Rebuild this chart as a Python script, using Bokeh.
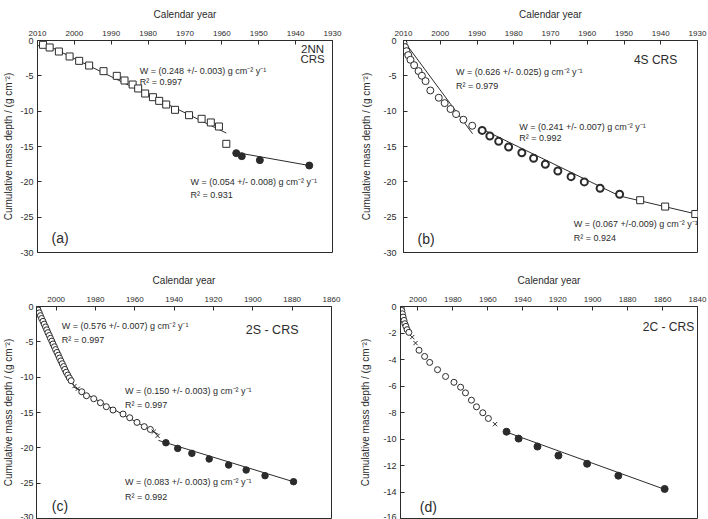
from bokeh.plotting import figure
from bokeh.models import Range1d, FixedTicker, Label
from bokeh.layouts import column, row
from bokeh.embed import file_html
from bokeh.resources import INLINE

FONT = "Liberation Sans"
INK = "#2b2b2b"

# ---------------- data: panel (a) 2NN CRS ----------------
a_open_year = [2010.0, 2008.5, 2006.7, 2004.2, 2001.3, 1998.7, 1996.0, 1992.1, 1988.5, 1986.4,
               1984.2, 1982.7, 1980.8, 1978.7, 1977.0, 1975.1, 1972.7, 1968.9, 1965.5, 1963.0,
               1960.8, 1958.8]
a_open_depth = [-0.24, -0.61, -0.99, -1.56, -2.26, -2.88, -3.54, -4.34, -5.00, -5.66,
                -6.23, -6.79, -7.50, -8.02, -8.54, -9.06, -9.81, -10.57, -11.08, -11.60,
                -12.17, -14.62]
a_fill_year = [1956.1, 1954.6, 1949.7, 1936.3]
a_fill_depth = [-15.94, -16.37, -16.93, -17.69]
a_fit1_year, a_fit1_depth = [2010.0, 1958.8], [0.0, -13.1]
a_fit2_year, a_fit2_depth = [1956.1, 1936.3], [-15.85, -17.69]

# ---------------- data: panel (b) 4S CRS ----------------
b_open_year = [2010.0, 2009.6, 2009.2, 2008.7, 2008.1, 2007.1, 2005.9, 2005.0, 2004.0, 2002.7,
               2000.4, 1998.8, 1997.2, 1995.7, 1993.7, 1991.3]
b_open_depth = [-0.33, -0.94, -1.51, -2.07, -2.73, -3.49, -4.33, -4.99, -5.75, -7.07,
                -8.10, -8.86, -9.70, -10.41, -11.21, -12.06]
b_bold_year = [1988.6, 1986.5, 1984.1, 1981.4, 1977.8, 1974.6, 1971.4, 1968.0, 1964.4, 1960.8,
               1956.5, 1951.2]
b_bold_depth = [-12.72, -13.52, -14.27, -15.07, -15.88, -16.67, -17.51, -18.46, -19.27, -20.01,
                -20.90, -21.75]
b_sq_year = [1945.6, 1938.8, 1930.6]
b_sq_depth = [-22.6, -23.5, -24.55]
b_fit1_year, b_fit1_depth = [2010.0, 1991.2], [0.0, -13.2]
b_fit2_year, b_fit2_depth = [1989.0, 1951.2], [-12.45, -22.0]
b_fit3_year, b_fit3_depth = [1951.2, 1930.0], [-22.0, -24.6]

# ---------------- data: panel (c) 2S - CRS ----------------
c_open_year = [2009.6, 2009.2, 2008.6, 2008.0, 2007.4, 2006.7, 2006.1, 2005.4, 2004.8, 2004.2,
               2003.5, 2002.9, 2002.2, 2001.6, 2000.9, 2000.3, 1999.6, 1998.9, 1998.3, 1997.6,
               1996.9, 1996.2, 1995.6, 1994.9, 1994.1, 1993.3, 1992.4,
               1987.0, 1984.6, 1980.9, 1977.5, 1974.5, 1971.1, 1966.0, 1962.6, 1958.9, 1955.2,
               1952.1]
c_open_depth = [-0.1, -0.5, -0.9, -1.3, -1.7, -2.1, -2.5, -2.9, -3.3, -3.7,
                -4.1, -4.5, -4.9, -5.3, -5.7, -6.1, -6.5, -6.9, -7.3, -7.7,
                -8.1, -8.5, -8.9, -9.3, -9.7, -10.1, -10.5,
                -12.06, -12.63, -13.05, -13.62, -14.18, -14.65, -15.22, -15.74, -16.40, -17.00,
                -17.40]
c_x_year = [1990.7, 1989.0, 1950.4, 1948.4]
c_x_depth = [-11.26, -11.64, -17.72, -18.3]
c_fill_year = [1944.2, 1938.2, 1931.0, 1922.2, 1912.3, 1903.4, 1893.8, 1879.3]
c_fill_depth = [-19.28, -20.08, -20.78, -21.58, -22.43, -23.14, -23.94, -24.79]
c_fit1_year, c_fit1_depth = [2010.0, 1991.0], [0.0, -11.2]
c_fit2_year, c_fit2_depth = [1991.0, 1948.0], [-11.4, -18.1]
c_fit3_year, c_fit3_depth = [1948.0, 1879.3], [-18.95, -24.8]

# ---------------- data: panel (d) 2C - CRS ----------------
d_open_year = [2009.6, 2009.3, 2008.9, 2008.5, 2008.0, 2007.5, 2006.9, 2006.2, 2005.2,
               1999.4, 1996.2, 1993.3, 1988.8, 1984.2, 1979.4, 1975.6, 1972.8, 1969.4, 1966.5,
               1962.9, 1959.7]
d_open_depth = [-0.1, -0.3, -0.55, -0.8, -1.05, -1.3, -1.5, -1.75, -1.95,
                -3.3, -3.77, -4.22, -4.77, -5.28, -5.72, -6.09, -6.52, -7.07, -7.57,
                -8.02, -8.45]
d_x_year = [2003.3, 2001.4, 1955.9]
d_x_depth = [-2.31, -2.76, -8.88]
d_fill_year = [1949.3, 1942.4, 1931.6, 1919.6, 1903.2, 1885.3, 1858.8]
d_fill_depth = [-9.45, -9.97, -10.57, -11.25, -11.87, -12.77, -13.77]
d_fit_year, d_fit_depth = [1949.3, 1858.8], [-9.48, -13.8]

# ---------------- tick values ----------------
ab_year_ticks = [2010, 2000, 1990, 1980, 1970, 1960, 1950, 1940, 1930]
c_year_ticks = [2000, 1980, 1960, 1940, 1920, 1900, 1880, 1860]
d_year_ticks = [2000, 1980, 1960, 1940, 1920, 1900, 1880, 1860, 1840]
abc_depth_ticks = [0, -5, -10, -15, -20, -25, -30]
d_depth_ticks = [0, -2, -4, -6, -8, -10, -12, -14, -16]

X_LABEL = "Calendar year"
Y_LABEL = "Cumulative mass depth / (g cm\u207b\u00b2)"


def panel(w, h, xr, yr, xticks, yticks, bl, br, bt, bb, tick_so, ylab_so):
    p = figure(width=w, height=h, x_range=Range1d(*xr), y_range=Range1d(*yr),
               x_axis_location="above", output_backend="svg", toolbar_location=None,
               min_border_left=bl, min_border_right=br, min_border_top=bt, min_border_bottom=bb)
    p.grid.visible = False
    p.outline_line_color = INK
    p.outline_line_width = 1
    p.xaxis.ticker = FixedTicker(ticks=xticks)
    p.yaxis.ticker = FixedTicker(ticks=yticks)
    p.xaxis.major_label_overrides = {t: str(t) for t in xticks}
    p.yaxis.major_label_overrides = {t: str(t) for t in yticks}
    for ax in (p.xaxis, p.yaxis):
        ax.axis_line_color = INK
        ax.major_tick_line_color = INK
        ax.major_tick_in = 4
        ax.major_tick_out = 0
        ax.minor_tick_line_color = None
        ax.major_label_text_font = FONT
        ax.major_label_text_color = INK
        ax.axis_label_text_font = FONT
        ax.axis_label_text_font_style = "normal"
        ax.axis_label_text_font_size = "10px"
        ax.axis_label_text_color = INK
    p.xaxis.major_label_text_font_size = "8px"
    p.yaxis.major_label_text_font_size = "9px"
    p.xaxis.axis_label = X_LABEL
    p.yaxis.axis_label = Y_LABEL
    p.xaxis.major_label_standoff = 5
    p.xaxis.axis_label_standoff = 8
    p.yaxis.major_label_standoff = tick_so
    p.yaxis.axis_label_standoff = ylab_so
    return p


def label(p, x, y, text, size="9px", align="left"):
    p.add_layout(Label(x=x, y=y, text=text, text_font=FONT, text_font_size=size,
                       text_color=INK, text_align=align, text_baseline="middle"))


def fitline(p, xs, ys):
    p.line(xs, ys, line_color=INK, line_width=1)


def pts(p, xs, ys, marker, size, fill, lw=1.0):
    p.scatter(xs, ys, marker=marker, size=size, fill_color=fill, line_color=INK, line_width=lw)


# ---- (a)
pa = panel(354, 260, (2010, 1930), (-30, 0), ab_year_ticks, abc_depth_ticks,
           36, 22, 40, 8, 4, 3)
fitline(pa, a_fit1_year, a_fit1_depth)
fitline(pa, a_fit2_year, a_fit2_depth)
pts(pa, a_open_year, a_open_depth, "square", 7, "white")
pts(pa, a_fill_year, a_fill_depth, "circle", 7, INK)
label(pa, 1982.3, -4.28, "W = (0.248 +/- 0.003) g cm\u207b\u00b2 y\u207b\u00b9")
label(pa, 1982.3, -5.83, "R\u00b2 = 0.997")
label(pa, 1968.5, -20.0, "W = (0.054 +/- 0.008) g cm\u207b\u00b2 y\u207b\u00b9")
label(pa, 1968.5, -21.9, "R\u00b2 = 0.931")
label(pa, 1935.4, -1.2, "2NN", "11.5px", "center")
label(pa, 1935.4, -2.66, "CRS", "11.5px", "center")
label(pa, 2006.2, -27.9, "(a)", "14px")

# ---- (b)
pb = panel(354, 260, (2010, 1930), (-30, 0), ab_year_ticks, abc_depth_ticks,
           49, 11, 39, 8, 7, 8)
fitline(pb, b_fit1_year, b_fit1_depth)
fitline(pb, b_fit2_year, b_fit2_depth)
fitline(pb, b_fit3_year, b_fit3_depth)
pts(pb, b_open_year, b_open_depth, "circle", 7, "white")
pts(pb, b_bold_year, b_bold_depth, "circle", 7, "white", 2.0)
pts(pb, b_sq_year, b_sq_depth, "square", 7, "white")
label(pb, 1995.7, -4.43, "W = (0.626 +/- 0.025) g cm\u207b\u00b2 y\u207b\u00b9")
label(pb, 1995.7, -6.45, "R\u00b2 = 0.979")
label(pb, 1978.5, -12.25, "W = (0.241 +/- 0.007) g cm\u207b\u00b2 y\u207b\u00b9")
label(pb, 1978.5, -13.85, "R\u00b2 = 0.992")
label(pb, 1963.7, -25.9, "W = (0.067 +/-0.009) g cm\u207b\u00b2 y\u207b\u00b9")
label(pb, 1963.7, -27.9, "R\u00b2 = 0.924")
label(pb, 1941.4, -2.83, "4S CRS", "12px", "center")
label(pb, 2006.2, -28.1, "(b)", "14px")

# ---- (c)
pc = panel(354, 259, (2010, 1860), (-30, 0), c_year_ticks, abc_depth_ticks,
           35, 23, 46, 1, 3, 3)
fitline(pc, c_fit1_year, c_fit1_depth)
fitline(pc, c_fit2_year, c_fit2_depth)
fitline(pc, c_fit3_year, c_fit3_depth)
pts(pc, c_open_year, c_open_depth, "circle", 6, "white")
pts(pc, c_x_year, c_x_depth, "x", 6, None)
pts(pc, c_fill_year, c_fill_depth, "circle", 6.5, INK)
label(pc, 1997.1, -2.73, "W = (0.576 +/- 0.007) g cm\u207b\u00b2 y\u207b\u00b9")
label(pc, 1997.1, -4.75, "R\u00b2 = 0.997")
label(pc, 1965.0, -11.92, "W = (0.150 +/- 0.003) g cm\u207b\u00b2 y\u207b\u00b9")
label(pc, 1965.0, -13.95, "R\u00b2 = 0.997")
label(pc, 1965.0, -24.88, "W = (0.083 +/- 0.003) g cm\u207b\u00b2 y\u207b\u00b9")
label(pc, 1965.0, -27.0, "R\u00b2 = 0.992")
label(pc, 1890.2, -3.34, "2S - CRS", "12.5px", "center")
label(pc, 2002.2, -28.3, "(c)", "14px")

# ---- (d)
pd = panel(354, 259, (2010, 1840), (-16, 0), d_year_ticks, d_depth_ticks,
           46, 11, 46, 1, 4, 9)
fitline(pd, d_fit_year, d_fit_depth)
pts(pd, d_open_year, d_open_depth, "circle", 6, "white")
pts(pd, d_x_year, d_x_depth, "x", 6, None)
pts(pd, d_fill_year, d_fill_depth, "circle", 7, INK)
label(pd, 1856.6, -1.53, "2C - CRS", "12px", "center")
label(pd, 1999.0, -15.16, "(d)", "14px")

layout = column(row(pa, pb), row(pc, pd))
open("out.html", "w").write(file_html(layout, INLINE))
